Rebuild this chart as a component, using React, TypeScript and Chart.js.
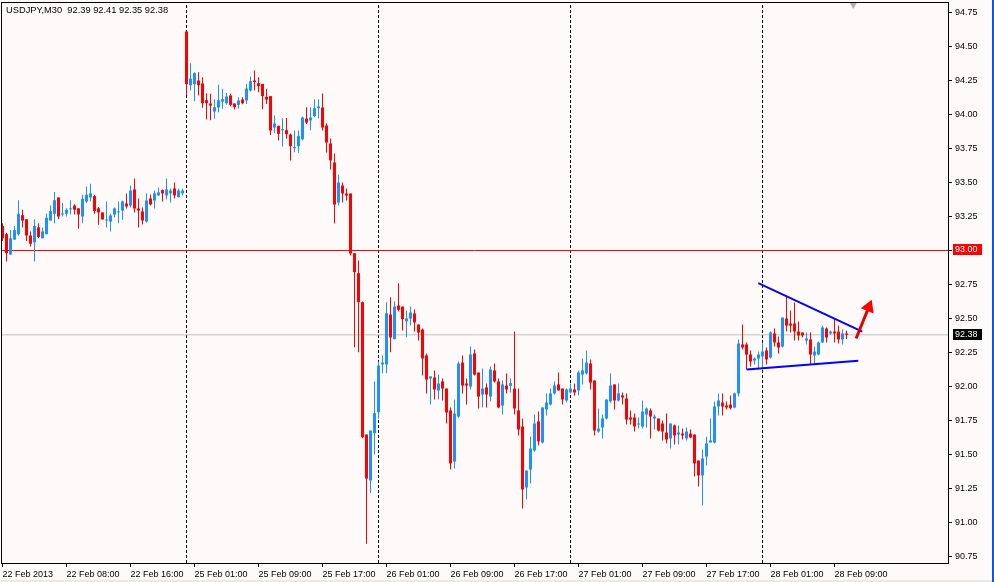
import React, { useEffect, useRef } from 'react';
import { Chart, registerables } from 'chart.js';

Chart.register(...registerables);

const TITLE_TEXT = 'USDJPY,M30  92.39 92.41 92.35 92.38';

const OPEN = [
  93.18, 93.12, 92.97, 93.08, 93.12, 93.26, 93.23, 93.11, 93.06, 93.17,
  93.09, 93.12, 93.22, 93.27, 93.39, 93.265, 93.27, 93.302, 93.33, 93.31,
  93.25, 93.36, 93.39, 93.40, 93.31, 93.28, 93.221, 93.213, 93.265, 93.28,
  93.294, 93.346, 93.331, 93.449, 93.309, 93.287, 93.213, 93.383, 93.368, 93.405,
  93.444, 93.405, 93.42, 93.456, 93.393, 93.42, 94.61, 94.215, 94.223, 94.25,
  94.228, 94.105, 94.081, 94.022, 94.051, 94.095, 94.083, 94.14, 94.081, 94.071,
  94.11, 94.103, 94.176, 94.25, 94.23, 94.225, 94.13, 94.135, 93.904, 93.916,
  93.885, 93.885, 93.853, 93.752, 93.767, 93.818, 93.97, 93.956, 93.988, 94.046,
  94.051, 93.919, 93.787, 93.647, 93.353, 93.478, 93.419, 93.419, 92.98, 92.833,
  92.62, 91.647, 91.309, 91.657, 91.811, 92.162, 92.162, 92.529, 92.348, 92.596,
  92.588, 92.48, 92.50, 92.537, 92.456, 92.419, 92.228, 92.059, 92.066, 91.971,
  92.037, 91.985, 91.824, 91.448, 91.779, 92.176, 92.022, 92.00, 92.243, 92.103,
  91.941, 91.993, 91.926, 92.118, 92.037, 91.86, 92.007, 92.005, 91.985, 91.824,
  91.706, 91.257, 91.389, 91.53, 91.743, 91.588, 91.831, 91.868, 91.949, 92.015,
  91.985, 91.897, 91.956, 91.978, 91.971, 92.088, 92.096, 92.169, 92.044, 91.669,
  91.698, 91.765, 91.89, 92.015, 91.897, 91.934, 91.912, 91.772, 91.772, 91.72,
  91.706, 91.794, 91.824, 91.765, 91.765, 91.728, 91.662, 91.618, 91.713, 91.647,
  91.654, 91.618, 91.654, 91.647, 91.456, 91.346, 91.485, 91.588, 91.588, 91.853,
  91.882, 91.86, 91.867, 91.846, 91.949, 92.309, 92.309, 92.235, 92.191, 92.206,
  92.221, 92.265, 92.213, 92.39, 92.324, 92.294, 92.50, 92.463, 92.463, 92.404,
  92.397, 92.338, 92.346, 92.228, 92.235, 92.324, 92.426, 92.39, 92.404, 92.404,
  92.346, 92.39,
];

const HIGH = [
  93.20, 93.13, 93.15, 93.18, 93.37, 93.30, 93.23, 93.14, 93.23, 93.20,
  93.17, 93.27, 93.33, 93.43, 93.39, 93.35, 93.31, 93.37, 93.34, 93.31,
  93.41, 93.47, 93.49, 93.41, 93.32, 93.28, 93.36, 93.27, 93.316, 93.36,
  93.368, 93.42, 93.478, 93.53, 93.383, 93.316, 93.42, 93.412, 93.441, 93.464,
  93.449, 93.53, 93.456, 93.50, 93.456, 93.456, 94.61, 94.377, 94.31, 94.311,
  94.274, 94.157, 94.152, 94.113, 94.218, 94.189, 94.159, 94.152, 94.081, 94.127,
  94.127, 94.225, 94.279, 94.323, 94.274, 94.225, 94.189, 94.135, 93.992, 93.92,
  93.973, 93.975, 93.86, 93.882, 93.882, 93.985, 94.054, 94.054, 94.113, 94.113,
  94.154, 93.935, 93.824, 93.713, 93.559, 93.50, 93.456, 93.419, 92.98, 92.926,
  92.625, 91.647, 91.676, 92.037, 92.184, 92.228, 92.62, 92.657, 92.625, 92.76,
  92.588, 92.559, 92.588, 92.566, 92.456, 92.426, 92.243, 92.074, 92.118, 92.088,
  92.059, 91.985, 91.846, 91.904, 92.184, 92.228, 92.059, 92.294, 92.272, 92.103,
  92.132, 92.022, 92.147, 92.169, 92.059, 92.044, 92.096, 92.059, 92.404, 91.985,
  91.765, 91.382, 91.632, 91.794, 91.816, 91.846, 91.949, 91.985, 92.037, 92.103,
  91.985, 91.985, 92.022, 92.022, 92.118, 92.206, 92.265, 92.199, 92.044, 91.838,
  91.794, 91.904, 92.096, 92.015, 92.022, 91.956, 91.949, 91.824, 91.801, 91.772,
  91.897, 91.846, 91.838, 91.794, 91.765, 91.75, 91.801, 91.728, 91.72, 91.713,
  91.691, 91.698, 91.684, 91.647, 91.456, 91.537, 91.63, 91.765, 91.89, 91.949,
  91.949, 91.89, 91.934, 91.956, 92.346, 92.456, 92.324, 92.265, 92.213, 92.257,
  92.324, 92.287, 92.404, 92.426, 92.368, 92.507, 92.669, 92.559, 92.618, 92.478,
  92.397, 92.397, 92.397, 92.294, 92.331, 92.449, 92.434, 92.412, 92.50, 92.449,
  92.419, 92.41,
];

const LOW = [
  93.07, 92.92, 92.97, 93.08, 93.11, 93.17, 93.07, 93.03, 92.92, 93.09,
  93.09, 93.12, 93.22, 93.20, 93.23, 93.25, 93.25, 93.265, 93.265, 93.16,
  93.20, 93.35, 93.36, 93.27, 93.19, 93.228, 93.17, 93.14, 93.243, 93.20,
  93.226, 93.309, 93.316, 93.28, 93.17, 93.191, 93.206, 93.331, 93.309, 93.40,
  93.361, 93.376, 93.353, 93.383, 93.39, 93.405, 94.142, 94.176, 94.098, 94.14,
  94.049, 93.963, 93.958, 93.968, 94.017, 94.042, 94.071, 94.06, 94.037, 94.042,
  94.075, 94.078, 94.171, 94.176, 94.164, 94.039, 94.078, 93.85, 93.862, 93.809,
  93.764, 93.821, 93.662, 93.723, 93.718, 93.81, 93.93, 93.885, 93.98, 93.973,
  93.882, 93.72, 93.596, 93.199, 93.331, 93.353, 93.368, 92.963, 92.289, 92.252,
  91.62, 90.843, 91.216, 91.50, 91.762, 92.098, 92.098, 92.252, 92.348, 92.551,
  92.412, 92.363, 92.448, 92.404, 92.338, 92.081, 91.948, 91.868, 91.904, 91.904,
  91.897, 91.728, 91.39, 91.397, 91.77, 91.948, 91.868, 91.978, 92.08, 91.838,
  91.846, 91.846, 91.89, 92.03, 91.84, 91.794, 91.948, 91.956, 91.794, 91.64,
  91.103, 91.169, 91.287, 91.52, 91.566, 91.58, 91.787, 91.86, 91.941, 91.971,
  91.868, 91.882, 91.95, 91.934, 91.934, 92.015, 92.088, 91.978, 91.64, 91.66,
  91.618, 91.757, 91.88, 91.831, 91.89, 91.868, 91.72, 91.72, 91.669, 91.691,
  91.691, 91.698, 91.618, 91.684, 91.669, 91.603, 91.581, 91.544, 91.574, 91.574,
  91.61, 91.603, 91.62, 91.338, 91.265, 91.125, 91.419, 91.588, 91.58, 91.787,
  91.787, 91.83, 91.83, 91.84, 91.926, 92.272, 92.125, 92.147, 92.162, 92.125,
  92.125, 92.162, 92.206, 92.294, 92.243, 92.287, 92.404, 92.397, 92.338, 92.338,
  92.36, 92.309, 92.162, 92.169, 92.23, 92.32, 92.324, 92.38, 92.324, 92.316,
  92.309, 92.35,
];

const CLOSE = [
  93.09, 92.98, 93.09, 93.15, 93.27, 93.22, 93.11, 93.05, 93.18, 93.10,
  93.14, 93.24, 93.29, 93.37, 93.25, 93.272, 93.30, 93.309, 93.30, 93.265,
  93.38, 93.41, 93.42, 93.29, 93.28, 93.228, 93.228, 93.258, 93.309, 93.287,
  93.361, 93.324, 93.441, 93.309, 93.294, 93.221, 93.368, 93.339, 93.42, 93.427,
  93.42, 93.449, 93.441, 93.405, 93.441, 93.441, 94.223, 94.264, 94.304, 94.215,
  94.083, 94.083, 94.066, 94.054, 94.105, 94.113, 94.132, 94.071, 94.054, 94.103,
  94.083, 94.191, 94.245, 94.238, 94.208, 94.135, 94.11, 93.882, 93.934, 93.858,
  93.892, 93.855, 93.767, 93.76, 93.841, 93.978, 93.941, 93.978, 94.046, 94.059,
  93.904, 93.794, 93.662, 93.338, 93.50, 93.419, 93.404, 92.978, 92.841, 92.62,
  91.627, 91.323, 91.676, 91.804, 92.154, 92.176, 92.539, 92.36, 92.588, 92.564,
  92.495, 92.50, 92.544, 92.471, 92.397, 92.206, 92.051, 92.074, 91.978, 92.022,
  91.985, 91.809, 91.434, 91.801, 92.169, 92.007, 92.007, 92.235, 92.088, 91.926,
  91.985, 91.941, 92.125, 92.037, 91.846, 92.015, 91.978, 92.025, 91.838, 91.684,
  91.243, 91.382, 91.544, 91.728, 91.596, 91.846, 91.882, 91.949, 92.007, 91.971,
  91.904, 91.978, 91.985, 91.956, 92.103, 92.118, 92.176, 92.029, 91.676, 91.691,
  91.765, 91.904, 92.007, 91.897, 91.949, 91.919, 91.757, 91.757, 91.706, 91.728,
  91.816, 91.838, 91.779, 91.779, 91.676, 91.669, 91.61, 91.728, 91.64, 91.662,
  91.64, 91.669, 91.625, 91.434, 91.346, 91.471, 91.581, 91.603, 91.853, 91.897,
  91.853, 91.846, 91.84, 91.949, 92.316, 92.287, 92.235, 92.184, 92.206, 92.235,
  92.257, 92.199, 92.397, 92.324, 92.287, 92.507, 92.448, 92.448, 92.404, 92.375,
  92.375, 92.353, 92.235, 92.257, 92.324, 92.434, 92.36, 92.404, 92.39, 92.346,
  92.39, 92.38,
];

const X_TICK_BARS = [0, 16, 32, 48, 64, 80, 96, 112, 128, 144, 160, 176, 192, 208];
const X_TICK_LABELS = [
  '22 Feb 2013', '22 Feb 08:00', '22 Feb 16:00', '25 Feb 01:00', '25 Feb 09:00',
  '25 Feb 17:00', '26 Feb 01:00', '26 Feb 09:00', '26 Feb 17:00', '27 Feb 01:00',
  '27 Feb 09:00', '27 Feb 17:00', '28 Feb 01:00', '28 Feb 09:00',
];
const Y_TICKS = [
  90.75, 91.0, 91.25, 91.5, 91.75, 92.0, 92.25, 92.5, 92.75, 93.0, 93.25,
  93.5, 93.75, 94.0, 94.25, 94.5, 94.75,
];
const DAY_SEPARATOR_BARS = [46, 94, 142, 190];
const LEVEL_PRICE = 93.0;
const BID_PRICE = 92.38;
const TREND_UPPER = [
  { x: 188.95, y: 92.76 },
  { x: 214.95, y: 92.404 },
];
const TREND_LOWER = [
  { x: 186.05, y: 92.125 },
  { x: 213.95, y: 92.189 },
];
const ARROW_SHAFT = [
  { x: 213.4, y: 92.353 },
  { x: 216.55, y: 92.583 },
];
const ARROW_HEAD = [{ x: 216.55, y: 92.583 }];
const SHIFT_MARK = [{ x: 212.7, y: 94.805 }];

const X_MIN = -0.375;
const X_MAX = 236.375;
const Y_MIN = 90.7022;
const Y_MAX = 94.8272;

const BULL = '#1e90ff';
const BEAR = '#ff0000';
const FONT = { family: "'Liberation Sans', Arial, sans-serif", size: 9 };
const TITLE_FONT_SIZE = 9.3;

export default function App() {
  const ref = useRef<HTMLCanvasElement>(null);

  useEffect(() => {
    const canvas = ref.current;
    if (!canvas) return;
    const idx = OPEN.map((_, i) => i);
    const colors = idx.map((i) => (CLOSE[i] >= OPEN[i] ? BULL : BEAR));
    const sepData: any[] = [];
    DAY_SEPARATOR_BARS.forEach((b) => {
      sepData.push({ x: b, y: Y_MIN }, { x: b, y: Y_MAX }, { x: b, y: null });
    });

    const decor = {
      id: 'decor',
      beforeDraw(chart: any) {
        const { ctx, width, height } = chart;
        ctx.save();
        ctx.fillStyle = '#fffafa';
        ctx.fillRect(0, 0, width, height);
        ctx.fillStyle = '#ebe9e4';
        ctx.fillRect(0, height - 2, width, 2);
        ctx.fillStyle = '#0a5ae0';
        ctx.fillRect(width - 2, 0, 2, height);
        ctx.restore();
      },
      afterDraw(chart: any) {
        const { ctx, chartArea } = chart;
        const ys = chart.scales.y;
        ctx.save();
        ctx.strokeStyle = '#000000';
        ctx.lineWidth = 1;
        ctx.strokeRect(
          chartArea.left + 0.5,
          chartArea.top + 0.5,
          chartArea.right - chartArea.left,
          chartArea.bottom - chartArea.top
        );
        ctx.textBaseline = 'middle';
        ctx.textAlign = 'left';
        ctx.fillStyle = '#000000';
        ctx.font = `${TITLE_FONT_SIZE}px ${FONT.family}`;
        ctx.fillText(TITLE_TEXT, chartArea.left + 5, chartArea.top + 8);
        ctx.font = `${FONT.size}px ${FONT.family}`;
        const tag = (v: number, bg: string) => {
          const py = Math.round(ys.getPixelForValue(v));
          ctx.fillStyle = bg;
          ctx.fillRect(chartArea.right + 5, py - 6, 29, 11);
          ctx.fillStyle = '#ffffff';
          ctx.fillText(v.toFixed(2), chartArea.right + 7, py);
        };
        tag(LEVEL_PRICE, '#ff0000');
        tag(BID_PRICE, '#000000');
        ctx.restore();
      },
    };

    const chart = new Chart(canvas, {
      type: 'bar',
      data: {
        datasets: [
          {
            type: 'line',
            label: 'separators',
            data: sepData,
            borderColor: '#000000',
            borderWidth: 1,
            borderDash: [3, 2],
            pointRadius: 0,
            spanGaps: false,
            order: 10,
          } as any,
          {
            type: 'line',
            label: 'level',
            data: [
              { x: X_MIN, y: LEVEL_PRICE },
              { x: X_MAX, y: LEVEL_PRICE },
            ],
            borderColor: '#ff0000',
            borderWidth: 1,
            pointRadius: 0,
            order: 9,
          } as any,
          {
            type: 'line',
            label: 'bid',
            data: [
              { x: X_MIN, y: BID_PRICE },
              { x: X_MAX, y: BID_PRICE },
            ],
            borderColor: '#c0c0c0',
            borderWidth: 1,
            pointRadius: 0,
            order: 9,
          } as any,
          {
            type: 'bar',
            label: 'wicks',
            data: idx.map((i) => ({ x: i, y: [LOW[i], HIGH[i]] })),
            backgroundColor: colors,
            barThickness: 1,
            grouped: false,
            inflateAmount: 0,
            borderWidth: 0,
            order: 8,
          } as any,
          {
            type: 'bar',
            label: 'bodies',
            data: idx.map((i) => ({ x: i, y: [OPEN[i], CLOSE[i]] })),
            backgroundColor: colors,
            barThickness: 3,
            minBarLength: 1,
            grouped: false,
            inflateAmount: 0,
            borderWidth: 0,
            order: 7,
          } as any,
          {
            type: 'line',
            label: 'upper trend',
            data: TREND_UPPER,
            borderColor: '#0000ff',
            borderWidth: 2,
            pointRadius: 0,
            order: 3,
          } as any,
          {
            type: 'line',
            label: 'lower trend',
            data: TREND_LOWER,
            borderColor: '#0000ff',
            borderWidth: 2,
            pointRadius: 0,
            order: 3,
          } as any,
          {
            type: 'line',
            label: 'arrow shaft',
            data: ARROW_SHAFT,
            borderColor: '#e00000',
            borderWidth: 3,
            pointRadius: 0,
            order: 2,
          } as any,
          {
            type: 'line',
            label: 'arrow head',
            data: ARROW_HEAD,
            showLine: false,
            pointStyle: 'triangle',
            pointRadius: 8,
            pointRotation: 22,
            backgroundColor: '#ff0000',
            borderColor: '#ff0000',
            pointBorderWidth: 0,
            order: 1,
          } as any,
          {
            type: 'line',
            label: 'shift',
            data: SHIFT_MARK,
            showLine: false,
            pointStyle: 'triangle',
            pointRadius: 4,
            pointRotation: 180,
            backgroundColor: '#b0b0b0',
            borderColor: '#b0b0b0',
            pointBorderWidth: 0,
            order: 1,
          } as any,
        ],
      },
      plugins: [decor],
      options: {
        responsive: false,
        animation: false,
        devicePixelRatio: 1,
        events: [],
        layout: { autoPadding: false, padding: { left: 1, top: 2, right: 0, bottom: 0 } },
        plugins: {
          legend: { display: false },
          tooltip: { enabled: false },
          title: { display: false },
        },
        scales: {
          x: {
            type: 'linear',
            position: 'bottom',
            min: X_MIN,
            max: X_MAX,
            offset: false,
            afterBuildTicks: (axis: any) => {
              axis.ticks = X_TICK_BARS.map((v) => ({ value: v }));
            },
            afterFit: (axis: any) => {
              axis.height = 19;
              axis.paddingLeft = 0;
              axis.paddingRight = 0;
              axis.paddingTop = 0;
              axis.paddingBottom = 0;
            },
            ticks: {
              autoSkip: false,
              maxRotation: 0,
              minRotation: 0,
              align: 'start',
              padding: 2,
              color: '#000000',
              font: FONT,
              callback: (_v: any, i: number) => X_TICK_LABELS[i],
            },
            grid: {
              display: true,
              drawOnChartArea: false,
              drawTicks: true,
              tickLength: 4,
              color: '#000000',
              offset: false,
            },
            border: { display: true, color: '#000000', width: 1 },
          },
          y: {
            type: 'linear',
            position: 'right',
            min: Y_MIN,
            max: Y_MAX,
            afterBuildTicks: (axis: any) => {
              axis.ticks = Y_TICKS.map((v) => ({ value: v }));
            },
            afterFit: (axis: any) => {
              axis.width = 46;
              axis.paddingLeft = 0;
              axis.paddingRight = 0;
              axis.paddingTop = 0;
              axis.paddingBottom = 0;
            },
            ticks: {
              padding: 3,
              color: '#000000',
              font: FONT,
              callback: (v: any) => Number(v).toFixed(2),
            },
            grid: {
              display: true,
              drawOnChartArea: false,
              drawTicks: true,
              tickLength: 4,
              color: '#000000',
            },
            border: { display: true, color: '#000000', width: 1 },
          },
        },
      } as any,
    });

    return () => chart.destroy();
  }, []);

  return (
    <div style={{ position: 'absolute', left: 0, top: 0, width: 994, height: 582 }}>
      <canvas ref={ref} width={994} height={582} style={{ display: 'block', width: 994, height: 582 }} />
    </div>
  );
}
